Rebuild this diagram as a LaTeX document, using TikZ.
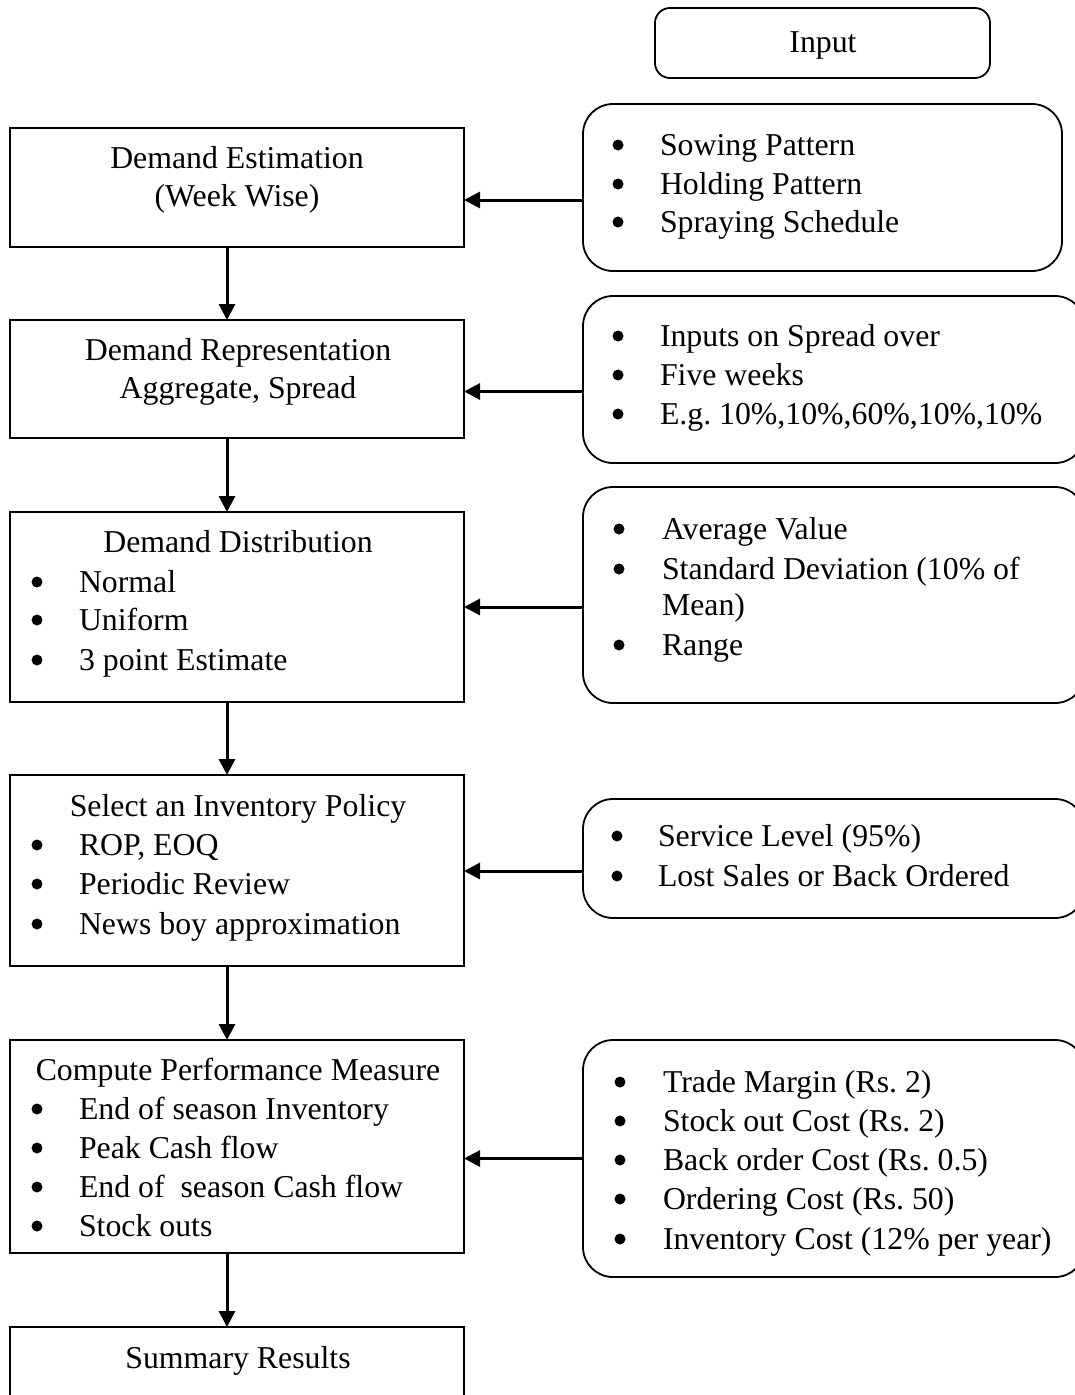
\documentclass[tikz,border=0pt]{standalone}
\usepackage{fontspec}
\setmainfont{Liberation Serif}
\usetikzlibrary{arrows.meta}
\frenchspacing
\begin{document}
\begin{tikzpicture}[x=1pt,y=-1pt,
  every node/.style={font=\fontsize{31.8}{39}\selectfont\frenchspacing, inner sep=0pt, outer sep=0pt},
  sqbox/.style={draw, line width=1.8pt},
  rbox/.style={draw, line width=1.8pt, rounded corners=30pt},
  inbox/.style={draw, line width=1.8pt, rounded corners=15pt},
  arr/.style={line width=3pt, -{Triangle[length=16pt,width=16pt]}},
  txt/.style={anchor=base west},
  ctr/.style={anchor=base},
  bul/.style={circle, fill=black, minimum size=11pt}]
\clip (0,0) rectangle (1075,1395);
% left boxes
\node[sqbox, minimum width=454pt, minimum height=119pt] (b1) at (237,187.5) {};
\node[sqbox, minimum width=454pt, minimum height=118pt] (b2) at (237,379) {};
\node[sqbox, minimum width=454pt, minimum height=190pt] (b3) at (237,607) {};
\node[sqbox, minimum width=454pt, minimum height=191pt] (b4) at (237,870.5) {};
\node[sqbox, minimum width=454pt, minimum height=213pt] (b5) at (237,1146.5) {};
\node[sqbox, minimum width=454pt, minimum height=119pt] (b6) at (237,1386.5) {};
% right boxes
\node[inbox, minimum width=335pt, minimum height=70pt] (in) at (822.5,43) {};
\node[rbox, minimum width=479pt, minimum height=167pt] (r1) at (822.5,187.5) {};
\node[rbox, minimum width=502pt, minimum height=167pt] (r2) at (834,379.5) {};
\node[rbox, minimum width=502pt, minimum height=216pt] (r3) at (834,595) {};
\node[rbox, minimum width=502pt, minimum height=119pt] (r4) at (834,858.5) {};
\node[rbox, minimum width=502pt, minimum height=237pt] (r5) at (834,1158.5) {};
% texts
\node[ctr] (tin) at (823,52) {Input};
\node[ctr] (t1a) at (237,168) {Demand Estimation};
\node[ctr] (t1b) at (237,206) {(Week Wise)};
\node[ctr] (t2a) at (238,360) {Demand Representation};
\node[ctr] (t2b) at (238,398) {Aggregate, Spread};
\node[ctr] (t3) at (238,552) {Demand Distribution};
\node[bul] (u31) at (37,582) {};
\node[txt] (t31) at (79,592) {Normal};
\node[bul] (u32) at (37,620) {};
\node[txt] (t32) at (79,630) {Uniform};
\node[bul] (u33) at (37,660) {};
\node[txt] (t33) at (79,670) {3 point Estimate};
\node[ctr] (t4) at (238,816) {Select an Inventory Policy};
\node[bul] (u41) at (37,845) {};
\node[txt] (t41) at (79,855) {ROP, EOQ};
\node[bul] (u42) at (37,884) {};
\node[txt] (t42) at (79,894) {Periodic Review};
\node[bul] (u43) at (37,924) {};
\node[txt] (t43) at (79,934) {News boy approximation};
\node[ctr] (t5) at (238,1080) {Compute Performance Measure};
\node[bul] (u51) at (37,1109) {};
\node[txt] (t51) at (79,1119) {End of season Inventory};
\node[bul] (u52) at (37,1148) {};
\node[txt] (t52) at (79,1158) {Peak Cash flow};
\node[bul] (u53) at (37,1187) {};
\node[txt] (t53) at (79,1197) {End of\ \ season Cash flow};
\node[bul] (u54) at (37,1226) {};
\node[txt] (t54) at (79,1236) {Stock outs};
\node[ctr] (t6) at (238,1368) {Summary Results};
% right texts
\node[bul] (v11) at (618,145) {};
\node[txt] (s11) at (660,155) {Sowing Pattern};
\node[bul] (v12) at (618,184) {};
\node[txt] (s12) at (660,194) {Holding Pattern};
\node[bul] (v13) at (618,222) {};
\node[txt] (s13) at (660,232) {Spraying Schedule};
\node[bul] (v21) at (618,336) {};
\node[txt] (s21) at (660,346) {Inputs on Spread over};
\node[bul] (v22) at (618,375) {};
\node[txt] (s22) at (660,385) {Five weeks};
\node[bul] (v23) at (618,414) {};
\node[txt] (s23) at (660,424) {E.g. 10\%,10\%,60\%,10\%,10\%};
\node[bul] (v31) at (619,529) {};
\node[txt] (s31) at (662,539) {Average Value};
\node[bul] (v32) at (619,569) {};
\node[txt] (s32) at (662,579) {Standard Deviation (10\% of};
\node[txt] (s32b) at (662,615) {Mean)};
\node[bul] (v33) at (619,645) {};
\node[txt] (s33) at (662,655) {Range};
\node[bul] (v41) at (617,836) {};
\node[txt] (s41) at (658,846) {Service Level (95\%)};
\node[bul] (v42) at (617,876) {};
\node[txt] (s42) at (658,886) {Lost Sales or Back Ordered};
\node[bul] (v51) at (620,1082) {};
\node[txt] (s51) at (663,1092) {Trade Margin (Rs. 2)};
\node[bul] (v52) at (620,1121) {};
\node[txt] (s52) at (663,1131) {Stock out Cost (Rs. 2)};
\node[bul] (v53) at (620,1160) {};
\node[txt] (s53) at (663,1170) {Back order Cost (Rs. 0.5)};
\node[bul] (v54) at (620,1199) {};
\node[txt] (s54) at (663,1209) {Ordering Cost (Rs. 50)};
\node[bul] (v55) at (620,1239) {};
\node[txt] (s55) at (663,1249) {Inventory Cost (12\% per year)};
% arrow anchor points
\coordinate (a1) at ([yshift=-12.5pt]r1.west);
\coordinate (a2) at ([yshift=-12pt]r2.west);
\coordinate (a3) at ([yshift=-12pt]r3.west);
\coordinate (a4) at ([yshift=-12.5pt]r4.west);
\coordinate (a5) at (r5.west);
% vertical arrows
\draw[arr] ([xshift=-10pt]b1.south) -- ([xshift=-10pt]b2.north);
\draw[arr] ([xshift=-10pt]b2.south) -- ([xshift=-10pt]b3.north);
\draw[arr] ([xshift=-10pt]b3.south) -- ([xshift=-10pt]b4.north);
\draw[arr] ([xshift=-10pt]b4.south) -- ([xshift=-10pt]b5.north);
\draw[arr] ([xshift=-10pt]b5.south) -- ([xshift=-10pt]b6.north);
% horizontal arrows
\draw[arr] (a1) -- (b1.east |- a1);
\draw[arr] (a2) -- (b2.east |- a2);
\draw[arr] (a3) -- (b3.east |- a3);
\draw[arr] (a4) -- (b4.east |- a4);
\draw[arr] (a5) -- (b5.east |- a5);
\end{tikzpicture}
\end{document}
